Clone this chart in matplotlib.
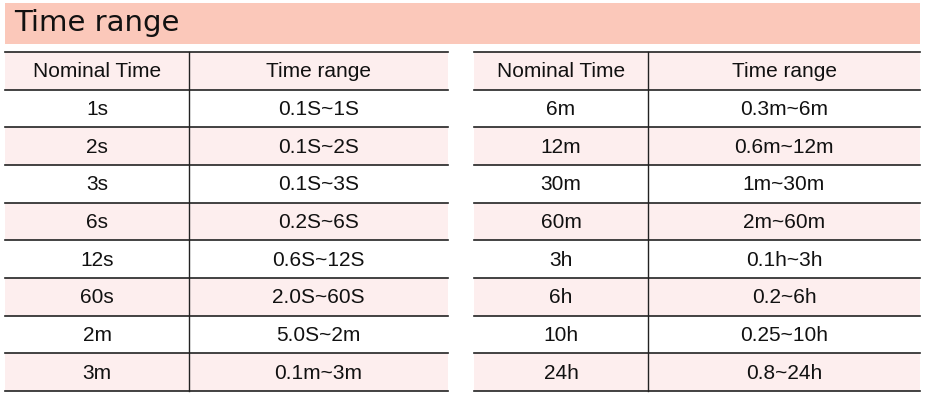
import matplotlib
matplotlib.use("Agg")
import matplotlib.pyplot as plt
from matplotlib.patches import Rectangle

title = "Time range"
headers = ["Nominal Time", "Time range"]
left_nominal = ["1s", "2s", "3s", "6s", "12s", "60s", "2m", "3m"]
left_range = ["0.1S~1S", "0.1S~2S", "0.1S~3S", "0.2S~6S", "0.6S~12S", "2.0S~60S", "5.0S~2m", "0.1m~3m"]
right_nominal = ["6m", "12m", "30m", "60m", "3h", "6h", "10h", "24h"]
right_range = ["0.3m~6m", "0.6m~12m", "1m~30m", "2m~60m", "0.1h~3h", "0.2~6h", "0.25~10h", "0.8~24h"]

W, H = 925, 400
fig = plt.figure(figsize=(W/100, H/100), dpi=100)
ax = fig.add_axes([0, 0, 1, 1])
ax.set_xlim(0, W); ax.set_ylim(H, 0); ax.axis("off")

pink = "#fdeeee"
ax.add_patch(Rectangle((5, 3), 915, 41, color="#fbc8ba", lw=0))
ax.text(14, 23, title, fontsize=21, family="DejaVu Sans", va="center", ha="left", color="#111")

top, bottom = 52, 391
nrows = 9
rh = (bottom - top) / nrows
font = "Liberation Sans"

def table(x0, xdiv, x1, col1, col2):
    rows = [headers] + list(zip(col1, col2))
    for i, (a, b) in enumerate(rows):
        y = top + i * rh
        if i % 2 == 0:
            ax.add_patch(Rectangle((x0, y), x1 - x0, rh, color=pink, lw=0))
        ax.text((x0 + xdiv) / 2, y + rh / 2 + 1, a, fontsize=15, family=font, ha="center", va="center", color="#111")
        ax.text((xdiv + x1) / 2, y + rh / 2 + 1, b, fontsize=15, family=font, ha="center", va="center", color="#111")
    for i in range(nrows + 1):
        y = top + i * rh
        ax.plot([x0, x1], [y, y], color="#222", lw=1.2)
    ax.plot([xdiv, xdiv], [top, bottom], color="#222", lw=1.0)

table(5, 189, 448, left_nominal, left_range)
table(474, 648, 920, right_nominal, right_range)

fig.savefig("out.png", dpi=100, facecolor="white")
